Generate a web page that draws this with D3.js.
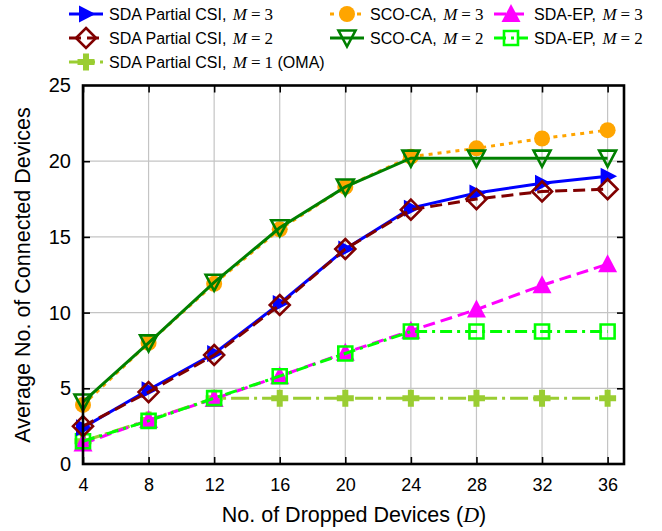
<!DOCTYPE html>
<meta charset="utf-8">
<style>
body { margin: 0; background: #fff; }
svg { display: block; }
text { font-family: "Liberation Sans", Arial, sans-serif; fill: #000; }
</style>
<body>
<div id="chart"><svg width="662" height="531"></svg></div>
<script src="https://cdn.jsdelivr.net/npm/d3@7"></script>
<script>

// data
var devices = [4, 8, 12, 16, 20, 24, 28, 32, 36];
var sdaM3 = [2.4, 4.9, 7.3, 10.6, 14.2, 16.9, 17.9, 18.55, 19.0];
var sdaM2 = [2.5, 4.75, 7.2, 10.5, 14.2, 16.8, 17.5, 18.0, 18.15];
var sdaM1 = [1.5, 2.9, 4.35, 4.35, 4.35, 4.35, 4.35, 4.35, 4.35];
var scoM3 = [3.9, 8.0, 11.9, 15.5, 18.3, 20.3, 20.85, 21.5, 22.05];
var scoM2 = [4.1, 8.0, 12.0, 15.6, 18.3, 20.2, 20.2, 20.2, 20.2];
var epM3 = [1.35, 2.9, 4.3, 5.8, 7.35, 8.8, 10.2, 11.8, 13.2];
var epM2 = [1.5, 2.85, 4.35, 5.8, 7.3, 8.75, 8.75, 8.75, 8.75];
var xTicks = [4, 8, 12, 16, 20, 24, 28, 32, 36];
var yTicks = [0, 5, 10, 15, 20, 25];

// marker shapes (paths centred on 0,0)
var shapes = {
  right: "M-7,-8.5L-7,8.5L9.5,0Z",
  diamond: "M0,-10L10,0L0,10L-10,0Z",
  plus: "M-3,-8.5H3V-3H8.5V3H3V8.5H-3V3H-8.5V-3H-3Z",
  down: "M-8.5,-7.5L8.5,-7.5L0,8.5Z",
  up: "M0,-10L9.5,8L-9.5,8Z",
  square: "M-7,-7H7V7H-7Z"
};

var series = [
  {name: "SDA Partial CSI, ", m: "1", extra: " (OMA)", vals: sdaM1, color: "#9acd32", dash: "18,5,3,5", mark: "plus", fill: true, lc: [86, 62]},
  {name: "SDA-EP, ", m: "3", vals: epM3, color: "#ff00ff", dash: "12,6", mark: "up", fill: true, lc: [511, 14]},
  {name: "SDA-EP, ", m: "2", vals: epM2, color: "#00ff00", dash: "12,5,3,5", mark: "square", fill: false, lc: [511, 38]},
  {name: "SDA Partial CSI, ", m: "3", vals: sdaM3, color: "#0000ff", dash: null, mark: "right", fill: true, lc: [86, 14]},
  {name: "SDA Partial CSI, ", m: "2", vals: sdaM2, color: "#800000", dash: "12,6", mark: "diamond", fill: false, lc: [86, 38]},
  {name: "SCO-CA, ", m: "3", vals: scoM3, color: "#ffa500", dash: "4,5", mark: "circle", fill: true, lc: [347, 14]},
  {name: "SCO-CA, ", m: "2", vals: scoM2, color: "#008000", dash: null, mark: "down", fill: false, lc: [347, 38]}
];

var svg = d3.select("#chart svg");
var x = d3.scaleLinear().domain([4, 37]).range([83, 624]);
var y = d3.scaleLinear().domain([0, 25]).range([464, 85.5]);

// grid
svg.append("g").selectAll("line").data(xTicks.slice(1)).enter().append("line")
  .attr("x1", d => x(d)).attr("x2", d => x(d)).attr("y1", y(0)).attr("y2", y(25))
  .attr("stroke", "#c4c4c4").attr("stroke-width", 1.2);
svg.append("g").selectAll("line").data(yTicks.slice(1, -1)).enter().append("line")
  .attr("y1", d => y(d)).attr("y2", d => y(d)).attr("x1", x(4)).attr("x2", x(37))
  .attr("stroke", "#c4c4c4").attr("stroke-width", 1.2);

// axes with inward ticks
var axB = svg.append("g").attr("transform", "translate(0," + y(0) + ")")
  .call(d3.axisBottom(x).tickValues(xTicks).tickSizeInner(-7).tickSizeOuter(0).tickPadding(14));
var axT = svg.append("g").attr("transform", "translate(0," + y(25) + ")")
  .call(d3.axisTop(x).tickValues(xTicks).tickSizeInner(-7).tickSizeOuter(0).tickFormat(""));
var axL = svg.append("g").attr("transform", "translate(" + x(4) + ",0)")
  .call(d3.axisLeft(y).tickValues(yTicks).tickSizeInner(-7).tickSizeOuter(0).tickPadding(12));
var axR = svg.append("g").attr("transform", "translate(" + x(37) + ",0)")
  .call(d3.axisRight(y).tickValues(yTicks).tickSizeInner(-7).tickSizeOuter(0).tickFormat(""));
[axB, axT, axL, axR].forEach(function(g) {
  g.select(".domain").remove();
  g.selectAll(".tick line").attr("stroke", "#000").attr("stroke-width", 1.6);
});
axB.selectAll(".tick text").attr("font-family", "Liberation Sans, Arial, sans-serif").attr("font-size", 18);
axL.selectAll(".tick text").attr("font-family", "Liberation Serif, serif").attr("font-size", 20);
[axL, axR].forEach(function(g) {
  g.selectAll(".tick").filter(d => d == 0 || d == 25).select("line").remove();
});

// series
var line = d3.line().x((d, i) => x(devices[i])).y(d => y(d));
function marker(sel, s, cx, cy) {
  var p;
  if (s.mark == "circle") p = sel.append("circle").attr("r", 8);
  else p = sel.append("path").attr("d", shapes[s.mark]);
  p.attr("transform", "translate(" + cx + "," + cy + ")")
    .attr("fill", s.fill ? s.color : "none")
    .attr("stroke", s.fill ? "none" : s.color)
    .attr("stroke-width", 2.6);
}
series.forEach(function(s) {
  var g = svg.append("g");
  g.append("path").datum(s.vals).attr("d", line)
    .attr("fill", "none").attr("stroke", s.color).attr("stroke-width", 3)
    .attr("stroke-dasharray", s.dash);
  s.vals.forEach(function(v, i) { marker(g, s, x(devices[i]), y(v)); });
});

// frame
svg.append("rect").attr("x", x(4)).attr("y", y(25)).attr("width", x(37) - x(4)).attr("height", y(0) - y(25))
  .attr("fill", "none").attr("stroke", "#000").attr("stroke-width", 2.6);

// legend
series.forEach(function(s) {
  var cx = s.lc[0], cy = s.lc[1];
  var g = svg.append("g");
  g.append("line").attr("x1", cx - 17).attr("x2", cx + 17).attr("y1", cy).attr("y2", cy)
    .attr("stroke", s.color).attr("stroke-width", 3).attr("stroke-dasharray", s.dash);
  marker(g, s, cx, cy);
  var t = g.append("text").attr("x", cx + 23).attr("y", cy + 6).attr("font-size", 16);
  t.append("tspan").text(s.name);
  t.append("tspan").attr("font-family", "Liberation Serif, serif").attr("font-style", "italic").attr("font-size", 17).attr("dx", 2).text("M");
  t.append("tspan").attr("font-family", "Liberation Serif, serif").attr("font-size", 17).attr("dx", 4).text("=");
  t.append("tspan").attr("font-family", "Liberation Serif, serif").attr("font-size", 17).attr("dx", 4).text(s.m);
  if (s.extra) t.append("tspan").text(s.extra);
});

// axis titles
var xl = svg.append("text").attr("x", 354).attr("y", 522).attr("text-anchor", "middle").attr("font-size", 21.5);
xl.append("tspan").text("No. of Dropped Devices (");
xl.append("tspan").attr("font-family", "Liberation Serif, serif").attr("font-style", "italic").attr("font-size", 22).text("D");
xl.append("tspan").text(")");
svg.append("text").attr("transform", "translate(30,275) rotate(-90)").attr("text-anchor", "middle")
  .attr("font-size", 21.5).text("Average No. of Connected Devices");

</script>
</body>
